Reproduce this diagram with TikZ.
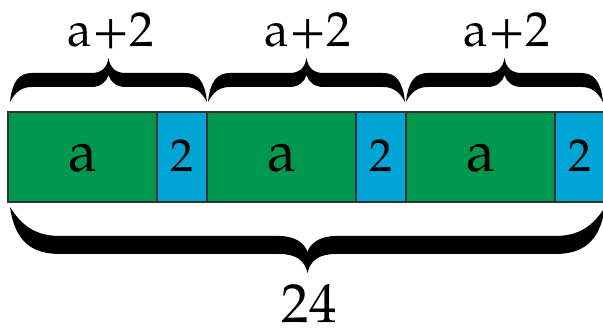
\documentclass[tikz,border=0pt]{standalone}
\usepackage{fontspec}
\setmainfont{texgyrepagella-regular.otf}
\usepackage{tikz}
\definecolor{bargreen}{RGB}{0,152,78}
\definecolor{barblue}{RGB}{0,165,214}
\definecolor{barline}{RGB}{50,50,50}
% #1 half width, #2 outer level, #3 inner level, #4 tip, #5 cusp, #6 end curve length, #7 middle curve length
\newcommand\curlybrace[7]{%
\fill (0,0) .. controls ({0.1*#6},{0.75*#2}) and ({0.45*#6},{#2}) .. ({#6},{#2})
 -- ({#1-#7},{#2}) .. controls ({#1-0.45*#7},{#2}) and ({#1-0.1*#7},{#2+0.3*(#4-#2)}) .. ({#1},{#4})
 .. controls ({#1+0.1*#7},{#2+0.3*(#4-#2)}) and ({#1+0.45*#7},{#2}) .. ({#1+#7},{#2})
 -- ({2*#1-#6},{#2}) .. controls ({2*#1-0.45*#6},{#2}) and ({2*#1-0.1*#6},{0.75*#2}) .. ({2*#1},0)
 .. controls ({2*#1-0.25*#6},{0.7*#3}) and ({2*#1-0.55*#6},{#3}) .. ({2*#1-#6},{#3})
 -- ({#1+#7},{#3}) .. controls ({#1+0.5*#7},{#3}) and ({#1+0.1*#7},{#3+0.4*(#5-#3)}) .. ({#1},{#5})
 .. controls ({#1-0.1*#7},{#3+0.4*(#5-#3)}) and ({#1-0.5*#7},{#3}) .. ({#1-#7},{#3})
 -- ({#6},{#3}) .. controls ({0.55*#6},{#3}) and ({0.25*#6},{0.7*#3}) .. (0,0) -- cycle;}
\begin{document}
\begin{tikzpicture}[x=1pt,y=-1pt,
  seg/.style={draw=barline, line width=1.5pt, minimum height=90pt, inner sep=0pt, outer sep=0pt},
  gseg/.style={seg, fill=bargreen, minimum width=149pt},
  bseg/.style={seg, fill=barblue, minimum width=50pt},
  segtext/.style={anchor=base, inner sep=0pt},
  atext/.style={segtext, font=\fontsize{58}{66}\selectfont},
  twotext/.style={segtext, font=\fontsize{46}{54}\selectfont},
  toplabel/.style={anchor=base, inner sep=0pt, font=\fontsize{49}{58}\selectfont},
  botlabel/.style={anchor=base, inner sep=0pt, font=\fontsize{55}{64}\selectfont}]
\useasboundingbox (0,0) rectangle (603,328);
\clip (0,0) rectangle (603,328);
\fill[white] (0,0) rectangle (603,328);
% bar
\node[gseg] (g1) at (82.5,157) {};
\node[bseg] (b1) at (182,157) {};
\node[gseg] (g2) at (281.5,157) {};
\node[bseg] (b2) at (381,157) {};
\node[gseg] (g3) at (480.5,157) {};
\node[bseg] (b3) at (580,157) {};
\node[atext] (ta1) at ([yshift=-15pt]g1.center) {a};
\node[twotext] (t21) at ([yshift=-15pt]b1.center) {2};
\node[atext] (ta2) at ([yshift=-15pt]g2.center) {a};
\node[twotext] (t22) at ([yshift=-15pt]b2.center) {2};
\node[atext] (ta3) at ([yshift=-15pt]g3.center) {a};
\node[twotext] (t23) at ([yshift=-15pt]b3.center) {2};
% top braces
\foreach \x in {10,208,406}{
  \begin{scope}[shift={(\x,102)}, yscale=-1]
    \curlybrace{98.5}{29}{15}{44}{27}{22}{17}
  \end{scope}}
% bottom brace
\begin{scope}[shift={(10,207)}]
  \curlybrace{297.5}{47}{29}{66}{45}{50}{28}
\end{scope}
% labels
\node[toplabel] (l1) at (111,47) {a+2};
\node[toplabel] (l2) at (308,47) {a+2};
\node[toplabel] (l3) at (507,47) {a+2};
\node[botlabel] (total) at (309,323) {24};
\end{tikzpicture}
\end{document}
